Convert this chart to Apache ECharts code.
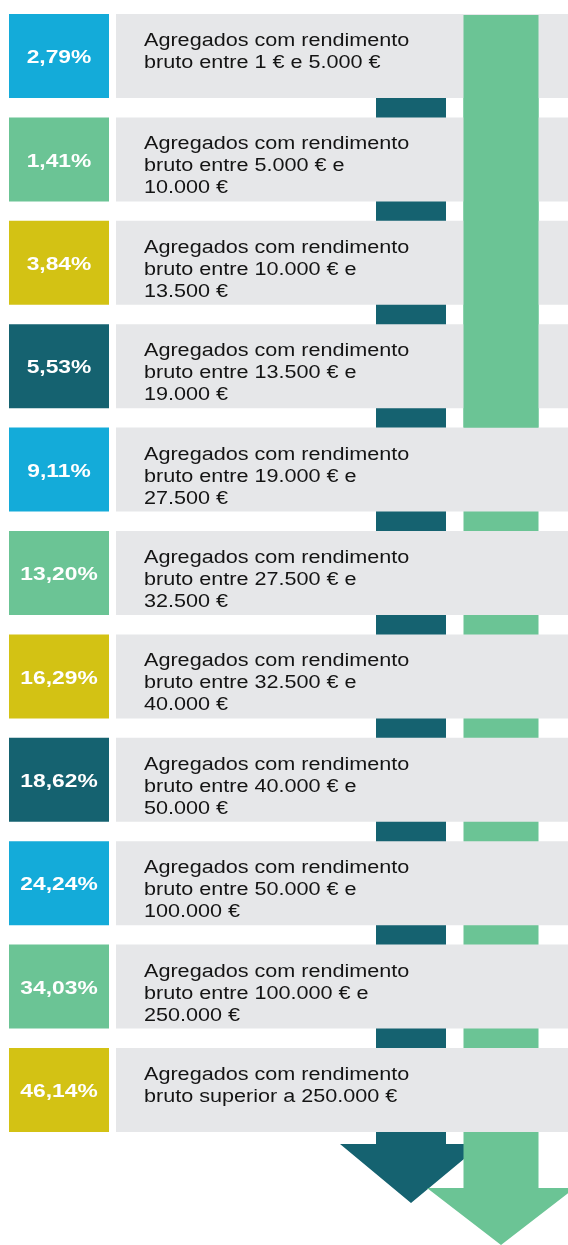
<!DOCTYPE html>
<html>
<head>
<meta charset="utf-8">
<title>Agregados por escalão de rendimento bruto</title>
<script src="https://cdn.jsdelivr.net/npm/echarts@6.0.0/dist/echarts.min.js"></script>
<style>
  html, body { margin: 0; padding: 0; background: #fff; }
  #chart { width: 568px; height: 1245px; }
</style>
</head>
<body>
<div id="chart"></div>
<script>
// texto de cada escalão (uma linha por categoria)
const brackets = [
  'Agregados com rendimento\nbruto entre 1 € e 5.000 €',
  'Agregados com rendimento\nbruto entre 5.000 € e\n10.000 €',
  'Agregados com rendimento\nbruto entre 10.000 € e\n13.500 €',
  'Agregados com rendimento\nbruto entre 13.500 € e\n19.000 €',
  'Agregados com rendimento\nbruto entre 19.000 € e\n27.500 €',
  'Agregados com rendimento\nbruto entre 27.500 € e\n32.500 €',
  'Agregados com rendimento\nbruto entre 32.500 € e\n40.000 €',
  'Agregados com rendimento\nbruto entre 40.000 € e\n50.000 €',
  'Agregados com rendimento\nbruto entre 50.000 € e\n100.000 €',
  'Agregados com rendimento\nbruto entre 100.000 € e\n250.000 €',
  'Agregados com rendimento\nbruto superior a 250.000 €'
]
// percentagem de cada escalão
const shares = [2.79, 1.41, 3.84, 5.53, 9.11, 13.20, 16.29, 18.62, 24.24, 34.03, 46.14]
// cores das caixas, repetem-se de 4 em 4
const boxColors = ['#14abd9', '#6bc495', '#d3c214', '#156270']

const GRAY = '#e6e7e9'
const DARK = '#156270'
const GREEN = '#6bc495'
const BOX_RATIO = 0.812 // altura da caixa / altura da banda
const STRETCH = 1.2 // o texto do original é mais largo que o Arial normal

let chart = echarts.init(document.getElementById('chart'))

// posição vertical da caixa de uma linha
function rowBox (api, idx) {
  let c = api.coord([0, idx])
  let band = api.size([0, 1])[1]
  let h = band * BOX_RATIO
  return { cy: c[1], band: band, h: h, top: c[1] - h / 2, bottom: c[1] + h / 2 }
}

function arrowShape (cx, shaftHalf, headHalf, top, headTop, tip) {
  return [
    [cx - shaftHalf, top], [cx + shaftHalf, top], [cx + shaftHalf, headTop],
    [cx + headHalf, headTop], [cx, tip], [cx - headHalf, headTop], [cx - shaftHalf, headTop]
  ]
}

function fmtShare (v) {
  return v.toFixed(2).replace('.', ',') + '%'
}

let option = {
  animation: false,
  grid: { left: 0, right: 0, top: 4.3, bottom: 103.3 },
  xAxis: { type: 'value', min: 0, max: 568, show: false },
  yAxis: { type: 'category', inverse: true, data: brackets, show: false },
  series: [
    {
      // as duas setas por trás das caixas
      type: 'custom',
      z: 1,
      data: [[0, 0]],
      renderItem: function (params, api) {
        let first = rowBox(api, 0)
        let last = rowBox(api, brackets.length - 1)
        let darkPts = arrowShape(411, 35, 71, first.cy, last.bottom + 12, last.bottom + 71)
        let greenPts = arrowShape(501, 37.5, 74, first.top + 1, last.bottom + 56, last.bottom + 113)
        return {
          type: 'group',
          children: [
            { type: 'polygon', shape: { points: darkPts }, style: { fill: DARK }, z2: 1 },
            { type: 'polygon', shape: { points: greenPts }, style: { fill: GREEN }, z2: 2 }
          ]
        }
      }
    },
    {
      // linhas: caixa colorida com a percentagem + caixa cinzenta com o texto
      type: 'custom',
      z: 2,
      data: shares.map(function (v, i) { return [v, i] }),
      encode: { x: 0, y: 1 },
      renderItem: function (params, api) {
        let i = params.dataIndex
        let b = rowBox(api, i)
        return {
          type: 'group',
          children: [
            { type: 'rect', shape: { x: 9, y: b.top, width: 100, height: b.h }, style: { fill: boxColors[i % 4] } },
            { type: 'rect', shape: { x: 116, y: b.top, width: 452, height: b.h }, style: { fill: GRAY } },
            {
              type: 'text',
              x: 59,
              y: b.cy + 2,
              scaleX: STRETCH,
              style: {
                text: fmtShare(shares[i]), x: 0, y: 0,
                fill: '#fff', fontSize: 19, fontWeight: 'bold', fontFamily: 'Liberation Sans',
                align: 'center', verticalAlign: 'middle'
              }
            },
            {
              type: 'text',
              x: 144,
              y: b.top + 16,
              scaleX: STRETCH,
              style: {
                text: brackets[i], x: 0, y: 0,
                fill: '#141414', fontSize: 18, fontFamily: 'Liberation Sans',
                lineHeight: 22, align: 'left', verticalAlign: 'top'
              }
            }
          ]
        }
      }
    },
    {
      // parte de cima da seta verde, por cima das quatro primeiras caixas
      type: 'custom',
      z: 3,
      data: [[0, 0]],
      renderItem: function (params, api) {
        let first = rowBox(api, 0)
        let fifth = rowBox(api, 4)
        return {
          type: 'rect',
          shape: { x: 463.5, y: first.top + 1, width: 75, height: fifth.top - first.top - 1 },
          style: { fill: GREEN }
        }
      }
    }
  ]
}

chart.setOption(option, true)
</script>
</body>
</html>
